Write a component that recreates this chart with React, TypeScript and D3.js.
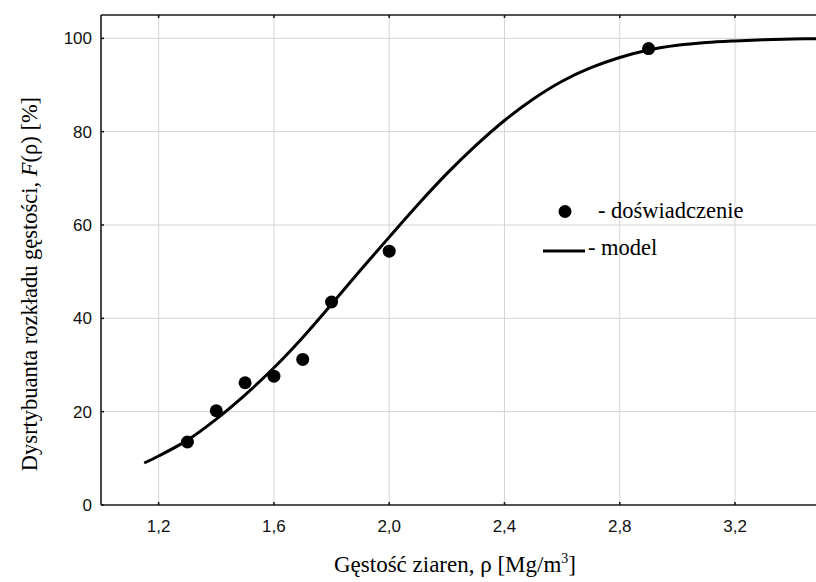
import * as d3 from "d3";

const W = 816;
const H = 582;

// experimental points
const expX = [1.3, 1.4, 1.5, 1.6, 1.7, 1.8, 2.0, 2.9];
const expY = [13.5, 20.2, 26.2, 27.6, 31.2, 43.5, 54.4, 97.8];

// model curve
const modelX = [1.15, 1.2, 1.3, 1.4, 1.5, 1.6, 1.7, 1.8, 1.9, 2.0, 2.1, 2.2, 2.3, 2.4, 2.5, 2.6, 2.7, 2.8, 2.9, 3.0, 3.1, 3.2, 3.3, 3.4, 3.5];
const modelY = [9.0, 10.5, 13.9, 18.4, 23.6, 29.4, 35.9, 43.0, 50.3, 57.4, 64.4, 71.0, 77.0, 82.4, 87.0, 90.8, 93.7, 95.9, 97.5, 98.5, 99.1, 99.45, 99.7, 99.85, 99.95];

const xTicks = [1.2, 1.6, 2.0, 2.4, 2.8, 3.2];
const yTicks = [0, 20, 40, 60, 80, 100];

const margin = { left: 101, top: 15, right: 821.5, bottom: 505 };

function App() {
  const x = d3.scaleLinear().domain([1.0, 3.5]).range([margin.left, margin.right]);
  const y = d3.scaleLinear().domain([0, 105]).range([margin.bottom, margin.top]);

  const line = d3
    .line<number>()
    .x((d, i) => x(modelX[i]))
    .y((d) => y(d))
    .curve(d3.curveCatmullRom.alpha(0.5));

  const fmt = (v: number) => v.toFixed(1).replace(".", ",");
  const axisColor = "#1a1a1a";
  const serif = "'Liberation Serif', 'Times New Roman', serif";
  const sans = "'Liberation Sans', Arial, sans-serif";

  return (
    <svg
      width={W}
      height={H}
      viewBox={`0 0 ${W} ${H}`}
      style={{ position: "absolute", left: 0, top: 0, background: "#fff" }}
    >
      <defs>
        <clipPath id="plot">
          <rect x={margin.left} y={margin.top} width={margin.right - margin.left} height={margin.bottom - margin.top} />
        </clipPath>
      </defs>

      {/* grid */}
      <g stroke="#d4d4d4" strokeWidth={1}>
        {xTicks.map((t) => (
          <line key={"gx" + t} x1={x(t)} x2={x(t)} y1={margin.top} y2={margin.bottom} />
        ))}
        {yTicks.slice(1).map((t) => (
          <line key={"gy" + t} x1={margin.left} x2={W} y1={y(t)} y2={y(t)} />
        ))}
      </g>

      {/* frame */}
      <g stroke={axisColor} strokeWidth={1.6} fill="none">
        <line x1={margin.left} x2={W} y1={margin.top} y2={margin.top} />
        <line x1={margin.left} x2={W} y1={margin.bottom} y2={margin.bottom} />
        <line x1={margin.left} x2={margin.left} y1={margin.top} y2={margin.bottom} />
        {xTicks.map((t) => (
          <g key={"tx" + t}>
            <line x1={x(t)} x2={x(t)} y1={margin.bottom} y2={margin.bottom - 3} />
            <line x1={x(t)} x2={x(t)} y1={margin.top} y2={margin.top + 3} />
          </g>
        ))}
        {yTicks.map((t) => (
          <line key={"ty" + t} x1={margin.left} x2={margin.left + 3} y1={y(t)} y2={y(t)} />
        ))}
      </g>

      {/* tick labels */}
      <g fontFamily={sans} fontSize={17} fill="#111">
        {xTicks.map((t) => (
          <text key={"lx" + t} x={x(t)} y={532} textAnchor="middle">
            {fmt(t)}
          </text>
        ))}
        {yTicks.map((t) => (
          <text key={"ly" + t} x={margin.left - 9} y={y(t)} dy="0.35em" textAnchor="end">
            {t}
          </text>
        ))}
      </g>

      {/* model + points */}
      <g clipPath="url(#plot)">
        <path d={line(modelY) ?? ""} fill="none" stroke="#000" strokeWidth={3} />
        {expY.map((v, i) => (
          <circle key={"p" + i} cx={x(expX[i])} cy={y(v)} r={6.5} fill="#000" />
        ))}
      </g>

      {/* legend */}
      <g fontFamily={serif} fontSize={22.5} fill="#000">
        <circle cx={565} cy={211.5} r={6.5} fill="#000" />
        <text x={598} y={218}>- doświadczenie</text>
        <line x1={543} x2={585} y1={251} y2={251} stroke="#000" strokeWidth={3} />
        <text x={588} y={255}>- model</text>
      </g>

      {/* axis titles */}
      <text x={455} y={572} textAnchor="middle" fontFamily={serif} fontSize={23} fill="#000">
        Gęstość ziaren, ρ [Mg/m
        <tspan dy={-9} fontSize={14}>3</tspan>
        <tspan dy={9}>]</tspan>
      </text>
      <text
        transform={`translate(37, ${284}) rotate(-90)`}
        textAnchor="middle"
        fontFamily={serif}
        fontSize={22.5}
        fill="#000"
      >
        Dysrtybuanta rozkładu gęstości, <tspan fontStyle="italic">F</tspan>(ρ) [%]
      </text>
    </svg>
  );
}

export default App;
